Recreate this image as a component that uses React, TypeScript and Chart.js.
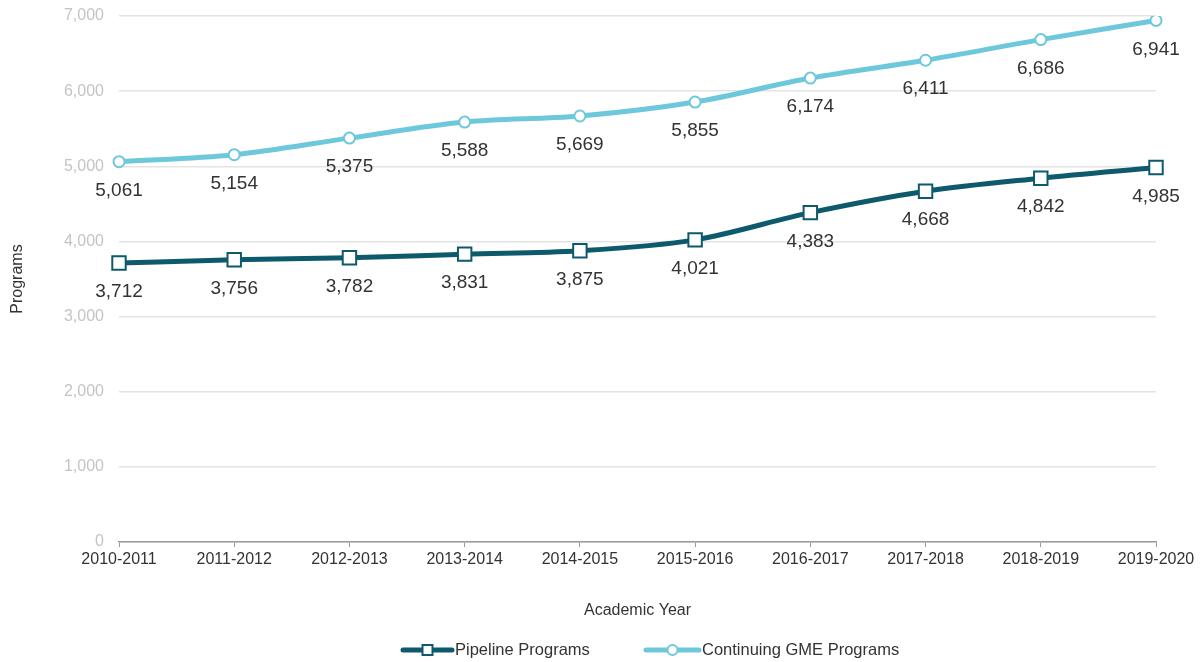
import React, { useEffect, useRef } from "react";
import { Chart, registerables } from "chart.js";

Chart.register(...registerables);

const categories = [
  "2010-2011", "2011-2012", "2012-2013", "2013-2014", "2014-2015",
  "2015-2016", "2016-2017", "2017-2018", "2018-2019", "2019-2020",
];
const pipelinePrograms = [3712, 3756, 3782, 3831, 3875, 4021, 4383, 4668, 4842, 4985];
const continuingPrograms = [5061, 5154, 5375, 5588, 5669, 5855, 6174, 6411, 6686, 6941];
const seriesNames = ["Pipeline Programs", "Continuing GME Programs"];

const DARK = "#0d5a6d";
const LIGHT = "#6ec8dc";
const FONT = "'Liberation Sans', Arial, Helvetica, sans-serif";

const labelsPlugin = {
  id: "valueLabels",
  afterDatasetsDraw(chart: any) {
    const ctx = chart.ctx;
    ctx.save();
    ctx.font = `19px ${FONT}`;
    ctx.fillStyle = "#333333";
    ctx.textAlign = "center";
    ctx.textBaseline = "middle";
    chart.data.datasets.forEach((ds: any, i: number) => {
      const meta = chart.getDatasetMeta(i);
      meta.data.forEach((pt: any, j: number) => {
        ctx.fillText(Number(ds.data[j]).toLocaleString("en-US"), pt.x, pt.y + 29);
      });
    });
    ctx.restore();
  },
};

const legendPlugin = {
  id: "customLegend",
  afterDraw(chart: any) {
    const ctx = chart.ctx;
    const y = 650;
    const items = [
      { x0: 403, x1: 452, color: DARK, style: "rect", text: seriesNames[0] },
      { x0: 646, x1: 699, color: LIGHT, style: "circle", text: seriesNames[1] },
    ];
    ctx.save();
    items.forEach((it) => {
      ctx.strokeStyle = it.color;
      ctx.lineWidth = 5;
      ctx.lineCap = "round";
      ctx.beginPath();
      ctx.moveTo(it.x0, y);
      ctx.lineTo(it.x1, y);
      ctx.stroke();
      const cx = (it.x0 + it.x1) / 2;
      ctx.lineWidth = 2;
      ctx.fillStyle = "#ffffff";
      ctx.beginPath();
      if (it.style === "rect") {
        ctx.rect(cx - 5, y - 5, 10, 10);
      } else {
        ctx.arc(cx, y, 5, 0, Math.PI * 2);
      }
      ctx.fill();
      ctx.stroke();
      ctx.fillStyle = "#333333";
      ctx.font = `16.5px ${FONT}`;
      ctx.textAlign = "left";
      ctx.textBaseline = "middle";
      ctx.fillText(it.text, it.x1 + 3, y);
    });
    ctx.restore();
  },
};

export default function App() {
  const ref = useRef<HTMLCanvasElement>(null);
  useEffect(() => {
    if (!ref.current) return;
    const chart = new Chart(ref.current, {
      type: "line",
      data: {
        labels: categories,
        datasets: [
          {
            label: seriesNames[0],
            data: pipelinePrograms,
            borderColor: DARK,
            backgroundColor: "#ffffff",
            borderWidth: 5,
            pointStyle: "rect",
            pointRadius: 9.5,
            pointBorderWidth: 2,
            pointBorderColor: DARK,
            pointBackgroundColor: "#ffffff",
            cubicInterpolationMode: "monotone",
          },
          {
            label: seriesNames[1],
            data: continuingPrograms,
            borderColor: LIGHT,
            backgroundColor: "#ffffff",
            borderWidth: 5,
            pointStyle: "circle",
            pointRadius: 5.5,
            pointBorderWidth: 2,
            pointBorderColor: LIGHT,
            pointBackgroundColor: "#ffffff",
            cubicInterpolationMode: "monotone",
          },
        ],
      },
      options: {
        animation: false,
        responsive: false,
        maintainAspectRatio: false,
        layout: { padding: { top: 16, right: 44, bottom: 0, left: 0 } },
        plugins: {
          legend: { display: false },
          tooltip: { enabled: false },
        },
        scales: {
          x: {
            offset: false,
            grid: {
              display: true,
              drawOnChartArea: false,
              drawTicks: true,
              tickLength: 5,
              color: "#9a9a9a",
            },
            border: { display: true, color: "#9a9a9a", width: 1.5 },
            ticks: {
              color: "#333333",
              font: { family: FONT, size: 16 },
              padding: 3,
              maxRotation: 0,
              autoSkip: false,
            },
            title: {
              display: true,
              text: "Academic Year",
              color: "#333333",
              font: { family: FONT, size: 16 },
              padding: { top: 0, bottom: 42 },
            },
            afterFit: (s: any) => {
              s.height = 120;
            },
          },
          y: {
            min: 0,
            max: 7000,
            grid: { color: "#e4e4e4", lineWidth: 1.5, drawTicks: false },
            border: { display: false },
            ticks: {
              stepSize: 1000,
              color: "#c4c4c4",
              font: { family: FONT, size: 16 },
              padding: 15,
              callback: (v: any) => Number(v).toLocaleString("en-US"),
            },
            title: {
              display: true,
              text: "Programs",
              color: "#333333",
              font: { family: FONT, size: 16 },
              padding: { top: 8, bottom: 0 },
            },
            afterFit: (s: any) => {
              s.width = 119;
              s.paddingTop = 0;
              s.paddingBottom = 0;
            },
          },
        },
      },
      plugins: [labelsPlugin, legendPlugin],
    });
    return () => chart.destroy();
  }, []);
  return (
    <div style={{ position: "fixed", left: 0, top: 0, width: 1200, height: 662, background: "#ffffff" }}>
      <canvas ref={ref} width={1200} height={662} style={{ display: "block", width: 1200, height: 662 }} />
    </div>
  );
}
